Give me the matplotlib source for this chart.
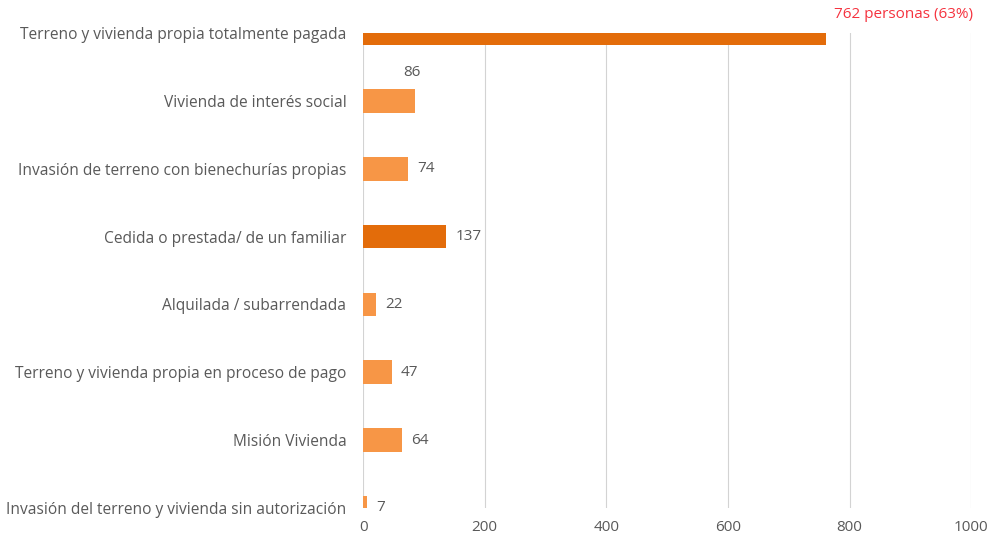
import matplotlib.pyplot as plt

categorias = [
    'Terreno y vivienda propia totalmente pagada',
    'Vivienda de interés social',
    'Invasión de terreno con bienechurías propias',
    'Cedida o prestada/ de un familiar',
    'Alquilada / subarrendada',
    'Terreno y vivienda propia en proceso de pago',
    'Misión Vivienda',
    'Invasión del terreno y vivienda sin autorización',
]
valores = [762, 86, 74, 137, 22, 47, 64, 7]
destacados = [True, False, False, True, False, False, False, False]
etiqueta_max = '762 personas (63%)'

oscuro = '#E36C0A'
claro = '#F79646'
gris = '#595959'

plt.rcParams['font.family'] = ['Open Sans', 'DejaVu Sans']

fig = plt.figure(figsize=(9.92, 5.41), dpi=100)
ax = fig.add_axes([0.366, 0.061, 0.613, 0.878])

y = list(range(len(categorias)))
colores = [oscuro if d else claro for d in destacados]
ax.barh(y, valores, height=0.35, color=colores, zorder=3)

ax.set_xlim(0, 1000)
ax.set_ylim(len(categorias) - 1, 0)
ax.set_xticks(range(0, 1001, 200))
ax.set_yticks(y)
ax.set_yticklabels(categorias)
ax.tick_params(axis='both', length=0, labelsize=11.2, labelcolor=gris)
ax.tick_params(axis='y', pad=12)
ax.tick_params(axis='x', pad=9, labelsize=11)
ax.grid(axis='x', color='#D3D3D3', linewidth=0.8, zorder=0)
for s in ax.spines.values():
    s.set_visible(False)

for i, v in enumerate(valores):
    if i == 0:
        ax.text(v + 12, i - 0.28, etiqueta_max, color='#F5333F', fontsize=11,
                ha='left', va='center', clip_on=False)
    elif i == 1:
        ax.text(v - 20, i - 0.42, str(v), color=gris, fontsize=11,
                ha='left', va='center')
    else:
        ax.text(v + 15, i, str(v), color=gris, fontsize=11,
                ha='left', va='center', clip_on=False)

fig.savefig('out.png', dpi=100)
